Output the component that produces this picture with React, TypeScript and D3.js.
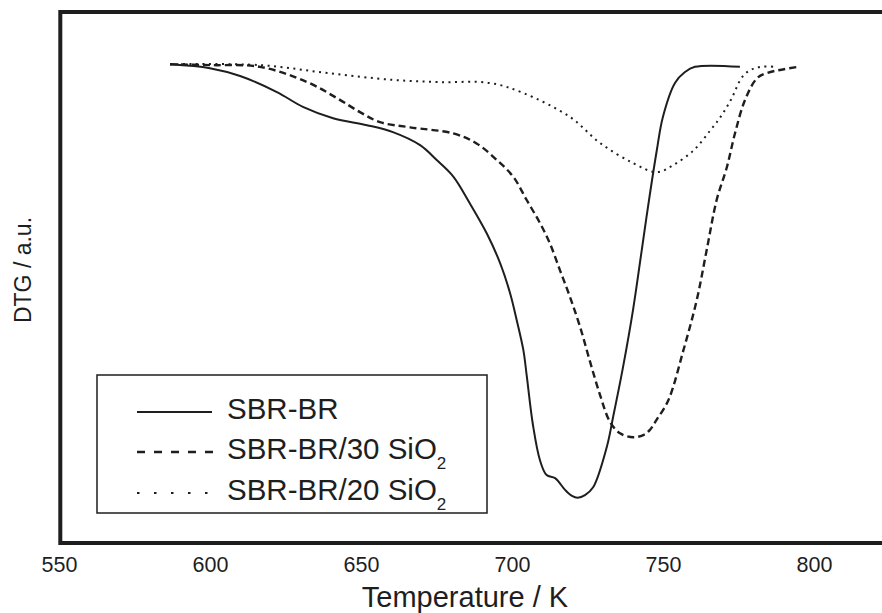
import * as d3 from "d3";

// DTG curves (temperature in K, signal in arbitrary units)
const sbrT = [586.6, 599.8, 609.8, 622.0, 630.6, 640.6, 651.8, 660.4, 669.4, 674.9, 680.4, 685.9, 691.5, 695.9, 699.2, 701.4, 703.6, 704.7, 706.8, 709.1, 711.3, 714.1, 717.4, 719.7, 721.6, 724.0, 726.7, 731.2, 733.3, 736.6, 739.9, 742.8, 745.2, 747.8, 749.8, 753.8, 757.1, 760.4, 775.3];
const sbrV = [0, -0.9, -2.7, -6.4, -9.8, -12.4, -14.0, -15.6, -18.6, -22.0, -25.8, -32.0, -38.9, -45.7, -52.6, -58.8, -65.7, -71.5, -83.0, -91.0, -94.4, -95.1, -97.8, -99.2, -99.6, -99.0, -97.2, -88.0, -81.1, -69.6, -56.5, -42.7, -31.2, -19.7, -12.1, -4.3, -1.8, -0.6, -0.6];

const sbr30T = [586.6, 599.8, 616.4, 632.0, 641.9, 649.5, 656.1, 666.1, 680.4, 688.1, 694.8, 700.3, 704.7, 709.1, 712.4, 715.7, 719.0, 722.4, 725.7, 729.0, 732.3, 735.6, 740.0, 743.3, 745.5, 747.7, 751.6, 756.6, 761.0, 764.3, 767.6, 771.0, 773.7, 777.0, 781.0, 784.3, 794.6];
const sbr30V = [0, -0.2, -0.6, -4.1, -7.8, -11.0, -13.3, -14.5, -15.9, -18.2, -22.0, -25.9, -31.2, -36.5, -41.2, -47.3, -53.4, -60.4, -68.4, -76.0, -82.2, -84.8, -85.7, -85.2, -84.0, -81.7, -77.2, -65.7, -54.2, -42.7, -31.2, -23.6, -15.8, -8.2, -3.2, -2.0, -0.6];

const sbr20T = [586.6, 616.4, 638.6, 660.4, 676.0, 692.5, 703.5, 719.0, 729.0, 739.9, 747.8, 753.2, 760.1, 765.6, 768.9, 772.3, 776.1, 778.9, 782.2, 787.5];
const sbr20V = [0, -0.2, -2.0, -3.6, -4.1, -4.3, -6.6, -12.1, -18.1, -22.7, -24.8, -23.2, -19.7, -15.1, -12.1, -8.2, -2.9, -1.3, -0.6, -0.6];

const xTicks = [550, 600, 650, 700, 750, 800];
const seriesNames = ["SBR-BR", "SBR-BR/30 SiO2", "SBR-BR/20 SiO2"];

const W = 882;
const H = 613;
const font = "'Liberation Sans', Arial, Helvetica, sans-serif";
const ink = "#1e1e1e";

const x = d3.scaleLinear().domain([550, 850]).range([59.5, 59.5 + 300 * 3.02]);
const y = d3.scaleLinear().domain([-110, 12]).range([543, 12]);

const line = d3
  .line<[number, number]>()
  .x((d) => x(d[0]))
  .y((d) => y(d[1]))
  .curve(d3.curveCatmullRom.alpha(0.5));

const zip = (t: number[], v: number[]) => t.map((d, i) => [d, v[i]] as [number, number]);

const curves = [
  { pts: zip(sbrT, sbrV), dash: undefined as string | undefined, w: 2, legendDash: undefined as string | undefined },
  { pts: zip(sbr30T, sbr30V), dash: "7,4", w: 2.4, legendDash: "8,9" },
  { pts: zip(sbr20T, sbr20V), dash: "2,4.5", w: 2, legendDash: "2.5,14.5" },
];

function Label({ text, x0, y0 }: { text: string; x0: number; y0: number }) {
  // trailing "2" in SiO2 is a subscript
  const m = text.match(/^(.*SiO)2$/);
  return (
    <text x={x0} y={y0} fontSize={29.5} fontFamily={font} fill={ink}>
      {m ? (
        <>
          {m[1]}
          <tspan fontSize={17} dy={10}>2</tspan>
        </>
      ) : (
        text
      )}
    </text>
  );
}

export default function App() {
  const frameRight = x(850);
  const legend = { x: 97, y: 375, w: 390, h: 138 };
  const rows = [412, 452, 493];

  return (
    <svg
      width={W}
      height={H}
      style={{ position: "absolute", left: 0, top: 0, display: "block", background: "#fff" }}
    >
      <rect x={0} y={0} width={W} height={H} fill="#fff" />

      {/* curves */}
      {curves.map((c, i) => (
        <path
          key={i}
          d={line(c.pts) ?? ""}
          fill="none"
          stroke={ink}
          strokeWidth={c.w}
          strokeDasharray={c.dash}
          strokeLinejoin="round"
        />
      ))}

      {/* plot frame (right side runs off the page) */}
      <rect
        x={60.3}
        y={12}
        width={frameRight - 60}
        height={y(-110) - y(12)}
        fill="none"
        stroke={ink}
        strokeWidth={4}
      />

      {/* x tick labels */}
      {xTicks.map((t) => (
        <text key={t} x={x(t)} y={572} textAnchor="middle" fontSize={21.5} fontFamily={font} fill={ink}>
          {t}
        </text>
      ))}

      <text x={465} y={607} textAnchor="middle" fontSize={29} fontFamily={font} fill={ink}>
        Temperature / K
      </text>

      <text
        transform="translate(31,270) rotate(-90)"
        textAnchor="middle"
        fontSize={23}
        fontFamily={font}
        fill={ink}
      >
        DTG / a.u.
      </text>

      {/* legend */}
      <rect x={legend.x} y={legend.y} width={legend.w} height={legend.h} fill="#fff" stroke={ink} strokeWidth={1.5} />
      {seriesNames.map((name, i) => (
        <g key={name}>
          <line
            x1={137}
            x2={i === 0 ? 212 : i === 1 ? 218 : 210}
            y1={rows[i]}
            y2={rows[i]}
            stroke={ink}
            strokeWidth={i === 1 ? 2.4 : 2}
            strokeDasharray={curves[i].legendDash}
          />
          <Label text={name} x0={227} y0={rows[i] + 7} />
        </g>
      ))}
    </svg>
  );
}
